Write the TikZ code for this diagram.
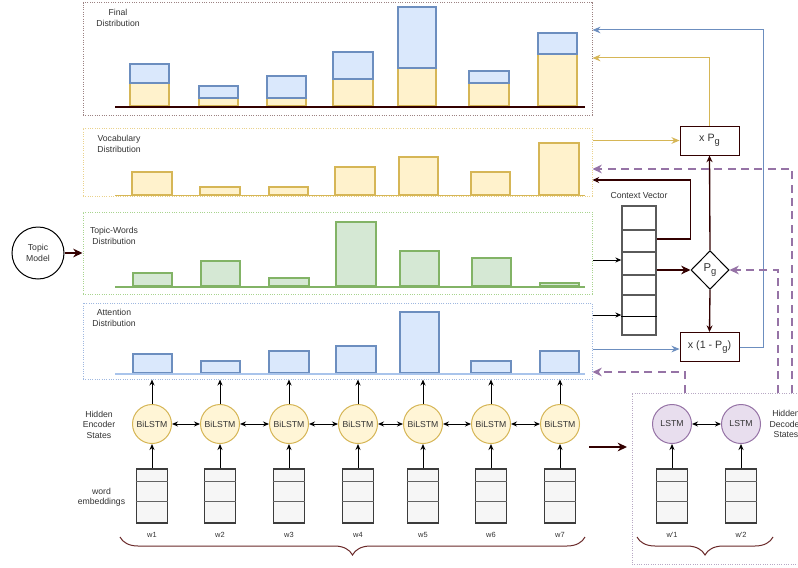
\documentclass[tikz,border=0pt]{standalone}
\usepackage{fontspec}
\setmainfont{Liberation Sans}
\usetikzlibrary{arrows.meta,shapes.geometric,fit,decorations.pathreplacing}

\definecolor{txt}{HTML}{333333}
\definecolor{brownline}{HTML}{330000}
\definecolor{bracecol}{HTML}{6B2A2A}
\definecolor{yline}{HTML}{D6B656}
\definecolor{yfill}{HTML}{FFF2CC}
\definecolor{bline}{HTML}{6C8EBF}
\definecolor{bfill}{HTML}{DAE8FC}
\definecolor{gline}{HTML}{82B366}
\definecolor{gfill}{HTML}{D5E8D4}
\definecolor{pline}{HTML}{9673A6}
\definecolor{pfill}{HTML}{E8DEEE}
\definecolor{attbase}{HTML}{A9C4EB}
\definecolor{finalframe}{HTML}{9C8282}
\definecolor{vocframe}{HTML}{EAD28C}
\definecolor{topframe}{HTML}{A8D48E}
\definecolor{attframe}{HTML}{9FB8E0}
\definecolor{decframe}{HTML}{B8A8C4}
\definecolor{embline}{HTML}{3C3C3C}
\definecolor{embfill}{HTML}{F6F6F6}
\definecolor{cvline}{HTML}{5A5A5A}

% lowered index g used in the switch labels
\newcommand{\gsub}{\raisebox{-0.45ex}{\fontsize{7pt}{8pt}\selectfont g}}

\tikzset{
  distbox/.style={draw, densely dotted, line width=0.75pt, inner sep=0pt},
  lbl/.style={align=center, inner sep=0pt, text=txt},
  ybar/.style={draw=yline, fill=yfill, line width=0.9pt},
  bbar/.style={draw=bline, fill=bfill, line width=0.9pt},
  gbar/.style={draw=gline, fill=gfill, line width=0.9pt},
  bilstm/.style={circle, draw=yline, fill=yfill!80!white, line width=0.75pt,
    minimum size=29.25pt, inner sep=0pt, text=txt},
  lstm/.style={circle, draw=pline, fill=pfill, line width=0.75pt,
    minimum size=29.25pt, inner sep=0pt, text=txt},
  emb/.style={draw=embline, fill=embfill, line width=1.3pt,
    minimum width=23.25pt, minimum height=40.5pt, inner sep=0pt},
  embdiv/.style={draw=embline!80, line width=0.6pt},
  wlbl/.style={inner sep=0pt, text=txt, font=\fontsize{5.6pt}{6pt}\selectfont},
  opbox/.style={draw=brownline, line width=0.75pt, minimum width=44.25pt,
    minimum height=21.75pt, inner sep=0pt, text=txt,
    font=\fontsize{8pt}{9pt}\selectfont},
  cvdiv/.style={draw=cvline, line width=1pt},
  arr/.style={-{Stealth[length=4.5pt,width=3.8pt]}, line width=0.75pt, draw=black},
  darr/.style={{Stealth[length=4.5pt,width=3.8pt]}-{Stealth[length=4.5pt,width=3.8pt]},
    line width=0.75pt, draw=black},
  brarr/.style={-{Stealth[length=5pt,width=4.5pt]}, line width=1pt, draw=brownline},
  thickarr/.style={-{Stealth[length=7pt,width=6.5pt]}, line width=1.5pt, draw=brownline},
  yarr/.style={-{Stealth[length=6pt,width=5pt]}, line width=0.75pt, draw=yline},
  barr/.style={-{Stealth[length=6pt,width=5pt]}, line width=0.75pt, draw=bline},
  pdash/.style={-{Stealth[length=7pt,width=6.5pt]}, line width=1.5pt, draw=pline,
    dash pattern=on 6pt off 4pt},
  bracestyle/.style={draw=bracecol, line width=0.75pt,
    decorate, decoration={brace, mirror, amplitude=13.5pt}},
}

\begin{document}
\begin{tikzpicture}[x=0.75pt, y=-0.75pt, font=\fontsize{6.5pt}{7.8pt}\selectfont]
\useasboundingbox (0,0) rectangle (798,567);
\fill[white] (0,0) rectangle (798,567);

% distribution panels
\node[distbox, draw=finalframe, fit={(83,3) (592,115)}] (final) {};
\node[distbox, draw=vocframe, fit={(83,128) (592,196)}] (vocab) {};
\node[distbox, draw=topframe, fit={(83,212) (592,294)}] (topic) {};
\node[distbox, draw=attframe, fit={(83,303) (592,379)}] (attn) {};
\node[distbox, draw=decframe, fit={(632,393) (812,564)}] (dec) {};

\node[lbl] (finallbl) at (118,18) {Final\\Distribution};
\node[lbl] (voclbl) at (119,144) {Vocabulary\\Distribution};
\node[lbl] (toplbl) at (114,236) {Topic-Words\\Distribution};
\node[lbl] (attlbl) at (114,318) {Attention\\Distribution};

% final distribution: vocabulary part below, attention part on top
\foreach \a/\b/\t/\m in {130/169/64/83, 199/238/86/98, 267/306/76/98,
    333/373/52/79, 398/436/7/68, 469/509/71/83, 538/577/33/54} {
  \draw[ybar] (\a,\m) rectangle (\b,106);
  \draw[bbar] (\a,\t) rectangle (\b,\m);
}
\draw[draw=brownline, line width=1.1pt] (115,107) -- (585,107);

% vocabulary distribution
\foreach \a/\b/\t in {132/172/172, 200/240/187, 269/308/187, 335/375/167,
    399/438/157, 471/510/172, 539/579/143}
  \draw[ybar] (\a,\t) rectangle (\b,195);
\draw[draw=yline, line width=1.1pt] (115,195.5) -- (585,195.5);

% topic-words distribution
\foreach \a/\b/\t in {133/172/273, 201/240/261, 269/309/278, 336/376/222,
    400/439/251, 472/511/258, 540/579/283}
  \draw[gbar] (\a,\t) rectangle (\b,286);
\draw[draw=gline, line width=1pt] (115,287) -- (585,287);

% attention distribution
\foreach \a/\b/\t in {133/172/354, 201/240/361, 269/309/351, 336/376/346,
    400/439/312, 471/511/361, 540/579/351}
  \draw[bbar] (\a,\t) rectangle (\b,373);
\draw[draw=attbase, line width=1.5pt] (115,374) -- (585,374);

% topic model
\node[circle, draw=black, line width=0.75pt, minimum size=39pt, inner sep=0pt,
  align=center, text=txt] (tm) at (38,253) {Topic\\Model};
\draw[thickarr] (tm) -- (topic.west);

% context vector
\node[draw=cvline, line width=1pt, inner sep=0pt, fit={(622,206) (656,335)}] (cv) {};
\foreach \y in {230,252,275,295}
  \draw[cvdiv] (cv.west |- 0,\y) -- (cv.east |- 0,\y);
\draw[black, line width=0.75pt] (cv.west |- 0,316) -- (cv.east |- 0,316);
\node[lbl] (cvlbl) at (639,196) {Context Vector};
\draw[arr] (topic.east |- 0,260) -- (cv.west |- 0,260);
\draw[arr] (attn.east |- 0,315) -- (cv.west |- 0,315);

% generation switch
\node[diamond, draw=black, line width=0.75pt, minimum width=28.5pt,
  minimum height=29pt, inner sep=0pt, text=txt,
  font=\fontsize{8.5pt}{9pt}\selectfont] (pg) at (710,270) {P\gsub};
\node[opbox] (xpg) at (709.5,140.5) {x P\gsub};
\node[opbox] (xnpg) at (709.5,347) {x (1 - P\gsub)};

\draw[brarr] (cv.east |- 0,239) -- ++(34,0) |- (vocab.east |- 0,180);
\draw[thickarr] (cv.east |- 0,270) -- (pg.west);
\draw[brarr] (pg.north) -- (xpg.south);
\draw[brarr] (pg.south) -- (xnpg.north);
\draw[yarr] (vocab.east |- xpg.west) -- (xpg.west);
\draw[yarr] (xpg.north) |- (final.east |- 0,58);
\draw[barr] (attn.east |- 0,349) -- (xnpg.west |- 0,349);
\draw[barr] (xnpg.east) -- ++(24,0) |- (final.east |- 0,30);

% decoder state feedback
\draw[pdash] (dec.north -| 792,0) |- (vocab.east |- 0,169);
\draw[pdash] (dec.north -| 778,0) |- (pg.east);
\draw[pdash] (dec.north -| 685,0) |- (attn.east |- 0,372);

% encoder
\foreach \x/\i in {152/1, 220/2, 289/3, 358/4, 423/5, 491/6, 560/7} {
  \node[bilstm] (h\i) at (\x,424) {BiLSTM};
  \node[emb] (e\i) at (\x,496) {};
  \draw[embdiv] ([yshift=-9.75pt]e\i.north west) -- ([yshift=-9.75pt]e\i.north east);
  \draw[embdiv] ([yshift=-24.75pt]e\i.north west) -- ([yshift=-24.75pt]e\i.north east);
  \node[wlbl] (w\i) at (\x,535) {w\i};
  \draw[arr] (e\i.north) -- (h\i.south);
  \draw[arr] (h\i.north) -- (h\i.north |- attn.south);
}
\foreach \i [evaluate=\i as \j using int(\i+1)] in {1,...,6}
  \draw[darr] (h\i.east) -- (h\j.west);

\node[lbl] (hes) at (99,424.5) {Hidden\\Encoder\\States};
\node[lbl] (wemb) at (101.5,497) {word\\embeddings};

% decoder
\foreach \x/\i in {672/1, 741/2} {
  \node[lstm] (d\i) at (\x,424) {LSTM};
  \node[emb] (f\i) at (\x,496) {};
  \draw[embdiv] ([yshift=-9.75pt]f\i.north west) -- ([yshift=-9.75pt]f\i.north east);
  \draw[embdiv] ([yshift=-24.75pt]f\i.north west) -- ([yshift=-24.75pt]f\i.north east);
  \node[wlbl] (v\i) at (\x,535) {w\textquotesingle\i};
  \draw[arr] (f\i.north) -- (d\i.south);
}
\draw[darr] (d1.east) -- (d2.west);
\node[lbl] (hds) at (786,424) {Hidden\\Decoder\\States};

% encoder to decoder
\coordinate (encout) at (589,447);
\coordinate (decin) at (627,447);
\draw[thickarr] (encout) -- (decin);

% input sequence braces
\draw[bracestyle] (120,537) -- (585,537);
\draw[bracestyle] (637,537) -- (773,537);
\end{tikzpicture}
\end{document}
